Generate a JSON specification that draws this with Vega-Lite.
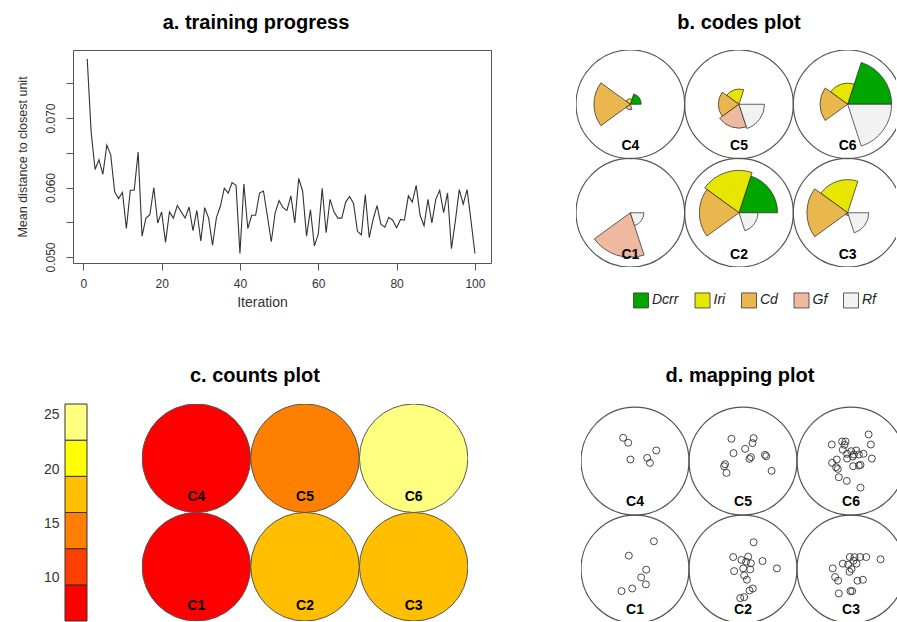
{
  "$schema": "https://vega.github.io/schema/vega-lite/v6.json",
  "padding": {"left": 15, "top": 12, "right": 0, "bottom": 0},
  "config": {
    "font": "Liberation Sans",
    "view": {"stroke": null},
    "title": {"font": "Liberation Sans", "fontSize": 20, "fontWeight": "bold", "color": "#000000", "anchor": "middle"},
    "axis": {"labelFont": "Liberation Sans", "titleFont": "Liberation Sans", "grid": false, "labelColor": "#333333", "titleColor": "#333333", "titleFontWeight": "normal"}
  },
  "datasets": {
    "training": [
      {"iteration": 1, "distance": 0.0785}, {"iteration": 2, "distance": 0.0680}, {"iteration": 3, "distance": 0.0626}, {"iteration": 4, "distance": 0.0640}, {"iteration": 5, "distance": 0.0619},
      {"iteration": 6, "distance": 0.0661}, {"iteration": 7, "distance": 0.0647}, {"iteration": 8, "distance": 0.0594}, {"iteration": 9, "distance": 0.0584}, {"iteration": 10, "distance": 0.0593},
      {"iteration": 11, "distance": 0.0541}, {"iteration": 12, "distance": 0.0596}, {"iteration": 13, "distance": 0.0596}, {"iteration": 14, "distance": 0.0651}, {"iteration": 15, "distance": 0.0530},
      {"iteration": 16, "distance": 0.0556}, {"iteration": 17, "distance": 0.0561}, {"iteration": 18, "distance": 0.0600}, {"iteration": 19, "distance": 0.0549}, {"iteration": 20, "distance": 0.0565},
      {"iteration": 21, "distance": 0.0521}, {"iteration": 22, "distance": 0.0565}, {"iteration": 23, "distance": 0.0556}, {"iteration": 24, "distance": 0.0574}, {"iteration": 25, "distance": 0.0565},
      {"iteration": 26, "distance": 0.0556}, {"iteration": 27, "distance": 0.0572}, {"iteration": 28, "distance": 0.0538}, {"iteration": 29, "distance": 0.0567}, {"iteration": 30, "distance": 0.0523},
      {"iteration": 31, "distance": 0.0571}, {"iteration": 32, "distance": 0.0556}, {"iteration": 33, "distance": 0.0517}, {"iteration": 34, "distance": 0.0557}, {"iteration": 35, "distance": 0.0573},
      {"iteration": 36, "distance": 0.0599}, {"iteration": 37, "distance": 0.0592}, {"iteration": 38, "distance": 0.0607}, {"iteration": 39, "distance": 0.0603}, {"iteration": 40, "distance": 0.0505},
      {"iteration": 41, "distance": 0.0605}, {"iteration": 42, "distance": 0.0541}, {"iteration": 43, "distance": 0.0560}, {"iteration": 44, "distance": 0.0560}, {"iteration": 45, "distance": 0.0592},
      {"iteration": 46, "distance": 0.0595}, {"iteration": 47, "distance": 0.0559}, {"iteration": 48, "distance": 0.0522}, {"iteration": 49, "distance": 0.0564}, {"iteration": 50, "distance": 0.0581},
      {"iteration": 51, "distance": 0.0571}, {"iteration": 52, "distance": 0.0567}, {"iteration": 53, "distance": 0.0588}, {"iteration": 54, "distance": 0.0549}, {"iteration": 55, "distance": 0.0613},
      {"iteration": 56, "distance": 0.0595}, {"iteration": 57, "distance": 0.0530}, {"iteration": 58, "distance": 0.0568}, {"iteration": 59, "distance": 0.0516}, {"iteration": 60, "distance": 0.0533},
      {"iteration": 61, "distance": 0.0599}, {"iteration": 62, "distance": 0.0535}, {"iteration": 63, "distance": 0.0583}, {"iteration": 64, "distance": 0.0565}, {"iteration": 65, "distance": 0.0556},
      {"iteration": 66, "distance": 0.0556}, {"iteration": 67, "distance": 0.0579}, {"iteration": 68, "distance": 0.0587}, {"iteration": 69, "distance": 0.0577}, {"iteration": 70, "distance": 0.0537},
      {"iteration": 71, "distance": 0.0532}, {"iteration": 72, "distance": 0.0590}, {"iteration": 73, "distance": 0.0528}, {"iteration": 74, "distance": 0.0554}, {"iteration": 75, "distance": 0.0574},
      {"iteration": 76, "distance": 0.0547}, {"iteration": 77, "distance": 0.0543}, {"iteration": 78, "distance": 0.0557}, {"iteration": 79, "distance": 0.0553}, {"iteration": 80, "distance": 0.0542},
      {"iteration": 81, "distance": 0.0554}, {"iteration": 82, "distance": 0.0553}, {"iteration": 83, "distance": 0.0588}, {"iteration": 84, "distance": 0.0579}, {"iteration": 85, "distance": 0.0603},
      {"iteration": 86, "distance": 0.0560}, {"iteration": 87, "distance": 0.0545}, {"iteration": 88, "distance": 0.0583}, {"iteration": 89, "distance": 0.0549}, {"iteration": 90, "distance": 0.0583},
      {"iteration": 91, "distance": 0.0596}, {"iteration": 92, "distance": 0.0564}, {"iteration": 93, "distance": 0.0592}, {"iteration": 94, "distance": 0.0512}, {"iteration": 95, "distance": 0.0552},
      {"iteration": 96, "distance": 0.0597}, {"iteration": 97, "distance": 0.0576}, {"iteration": 98, "distance": 0.0597}, {"iteration": 99, "distance": 0.0552}, {"iteration": 100, "distance": 0.0505}
    ],
    "cells": [
      {"unit": "C1", "col": 1, "row": 1, "count": 7},
      {"unit": "C2", "col": 2, "row": 1, "count": 17},
      {"unit": "C3", "col": 3, "row": 1, "count": 19},
      {"unit": "C4", "col": 1, "row": 2, "count": 6},
      {"unit": "C5", "col": 2, "row": 2, "count": 13},
      {"unit": "C6", "col": 3, "row": 2, "count": 26}
    ],
    "segments": [
      {"var": "Dcrr", "k0": 0, "k1": 1},
      {"var": "Iri", "k0": 1, "k1": 2},
      {"var": "Cd", "k0": 2, "k1": 3},
      {"var": "Gf", "k0": 3, "k1": 4},
      {"var": "Rf", "k0": 4, "k1": 5}
    ],
    "codes": [
      {"unit": "C1", "var": "Dcrr", "value": 0}, {"unit": "C1", "var": "Iri", "value": 0}, {"unit": "C1", "var": "Cd", "value": 0}, {"unit": "C1", "var": "Gf", "value": 0.82}, {"unit": "C1", "var": "Rf", "value": 0.25},
      {"unit": "C2", "var": "Dcrr", "value": 0.71}, {"unit": "C2", "var": "Iri", "value": 0.78}, {"unit": "C2", "var": "Cd", "value": 0.73}, {"unit": "C2", "var": "Gf", "value": 0}, {"unit": "C2", "var": "Rf", "value": 0.35},
      {"unit": "C3", "var": "Dcrr", "value": 0}, {"unit": "C3", "var": "Iri", "value": 0.61}, {"unit": "C3", "var": "Cd", "value": 0.75}, {"unit": "C3", "var": "Gf", "value": 0.05}, {"unit": "C3", "var": "Rf", "value": 0.39},
      {"unit": "C4", "var": "Dcrr", "value": 0.2}, {"unit": "C4", "var": "Iri", "value": 0.1}, {"unit": "C4", "var": "Cd", "value": 0.67}, {"unit": "C4", "var": "Gf", "value": 0.1}, {"unit": "C4", "var": "Rf", "value": 0},
      {"unit": "C5", "var": "Dcrr", "value": 0}, {"unit": "C5", "var": "Iri", "value": 0.28}, {"unit": "C5", "var": "Cd", "value": 0.38}, {"unit": "C5", "var": "Gf", "value": 0.44}, {"unit": "C5", "var": "Rf", "value": 0.47},
      {"unit": "C6", "var": "Dcrr", "value": 0.81}, {"unit": "C6", "var": "Iri", "value": 0.39}, {"unit": "C6", "var": "Cd", "value": 0.51}, {"unit": "C6", "var": "Gf", "value": 0}, {"unit": "C6", "var": "Rf", "value": 0.81}
    ],
    "bins": [
      {"lo": 6, "hi": 9.333, "mid": 7.667},
      {"lo": 9.333, "hi": 12.667, "mid": 11},
      {"lo": 12.667, "hi": 16, "mid": 14.333},
      {"lo": 16, "hi": 19.333, "mid": 17.667},
      {"lo": 19.333, "hi": 22.667, "mid": 21},
      {"lo": 22.667, "hi": 26, "mid": 24.333}
    ],
    "mapping": [
      {"unit": "C4", "x": 0.890, "y": 2.215}, {"unit": "C4", "x": 0.937, "y": 2.169}, {"unit": "C4", "x": 0.958, "y": 2.014}, {"unit": "C4", "x": 1.113, "y": 2.029}, {"unit": "C4", "x": 1.138, "y": 1.983}, {"unit": "C4", "x": 1.197, "y": 2.098},
      {"unit": "C1", "x": 1.175, "y": 1.257}, {"unit": "C1", "x": 0.943, "y": 1.124}, {"unit": "C1", "x": 1.104, "y": 0.994}, {"unit": "C1", "x": 1.057, "y": 0.923}, {"unit": "C1", "x": 1.101, "y": 0.858}, {"unit": "C1", "x": 0.974, "y": 0.820}, {"unit": "C1", "x": 0.875, "y": 0.796},
      {"unit": "C5", "x": 1.893, "y": 2.206}, {"unit": "C5", "x": 2.098, "y": 2.212}, {"unit": "C5", "x": 2.088, "y": 2.166}, {"unit": "C5", "x": 2.020, "y": 2.113}, {"unit": "C5", "x": 1.912, "y": 2.073}, {"unit": "C5", "x": 2.073, "y": 2.036}, {"unit": "C5", "x": 2.060, "y": 2.020},
      {"unit": "C5", "x": 2.203, "y": 2.057}, {"unit": "C5", "x": 2.215, "y": 2.045}, {"unit": "C5", "x": 1.834, "y": 1.971}, {"unit": "C5", "x": 1.825, "y": 1.952}, {"unit": "C5", "x": 1.847, "y": 1.890}, {"unit": "C5", "x": 2.265, "y": 1.909},
      {"unit": "C6", "x": 3.163, "y": 2.246}, {"unit": "C6", "x": 2.822, "y": 2.153}, {"unit": "C6", "x": 2.918, "y": 2.181}, {"unit": "C6", "x": 2.949, "y": 2.181}, {"unit": "C6", "x": 2.940, "y": 2.150}, {"unit": "C6", "x": 3.184, "y": 2.153},
      {"unit": "C6", "x": 2.924, "y": 2.104}, {"unit": "C6", "x": 3.002, "y": 2.091}, {"unit": "C6", "x": 3.048, "y": 2.098}, {"unit": "C6", "x": 2.964, "y": 2.067}, {"unit": "C6", "x": 3.026, "y": 2.060}, {"unit": "C6", "x": 3.073, "y": 2.060},
      {"unit": "C6", "x": 3.116, "y": 2.067}, {"unit": "C6", "x": 3.017, "y": 2.042}, {"unit": "C6", "x": 3.193, "y": 2.023}, {"unit": "C6", "x": 2.964, "y": 2.023}, {"unit": "C6", "x": 2.868, "y": 2.014}, {"unit": "C6", "x": 2.825, "y": 1.983},
      {"unit": "C6", "x": 3.088, "y": 1.964}, {"unit": "C6", "x": 3.020, "y": 1.952}, {"unit": "C6", "x": 3.073, "y": 1.958}, {"unit": "C6", "x": 2.862, "y": 1.943}, {"unit": "C6", "x": 2.878, "y": 1.927}, {"unit": "C6", "x": 2.887, "y": 1.850},
      {"unit": "C6", "x": 2.961, "y": 1.816}, {"unit": "C6", "x": 3.088, "y": 1.754},
      {"unit": "C2", "x": 2.098, "y": 1.248}, {"unit": "C2", "x": 1.909, "y": 1.111}, {"unit": "C2", "x": 2.048, "y": 1.115}, {"unit": "C2", "x": 1.986, "y": 1.084}, {"unit": "C2", "x": 2.029, "y": 1.068}, {"unit": "C2", "x": 2.073, "y": 1.053},
      {"unit": "C2", "x": 2.181, "y": 1.074}, {"unit": "C2", "x": 2.314, "y": 1.006}, {"unit": "C2", "x": 1.918, "y": 0.981}, {"unit": "C2", "x": 2.002, "y": 1.006}, {"unit": "C2", "x": 2.067, "y": 0.997}, {"unit": "C2", "x": 2.011, "y": 0.941},
      {"unit": "C2", "x": 2.036, "y": 0.901}, {"unit": "C2", "x": 2.091, "y": 0.820}, {"unit": "C2", "x": 2.060, "y": 0.802}, {"unit": "C2", "x": 2.011, "y": 0.740}, {"unit": "C2", "x": 1.974, "y": 0.731},
      {"unit": "C3", "x": 2.989, "y": 1.111}, {"unit": "C3", "x": 3.033, "y": 1.111}, {"unit": "C3", "x": 3.085, "y": 1.111}, {"unit": "C3", "x": 3.141, "y": 1.111}, {"unit": "C3", "x": 3.274, "y": 1.090}, {"unit": "C3", "x": 3.023, "y": 1.077},
      {"unit": "C3", "x": 2.924, "y": 1.050}, {"unit": "C3", "x": 2.974, "y": 1.040}, {"unit": "C3", "x": 3.051, "y": 1.050}, {"unit": "C3", "x": 3.005, "y": 1.000}, {"unit": "C3", "x": 2.986, "y": 0.975}, {"unit": "C3", "x": 2.831, "y": 1.006},
      {"unit": "C3", "x": 2.853, "y": 0.926}, {"unit": "C3", "x": 2.881, "y": 0.892}, {"unit": "C3", "x": 3.060, "y": 0.892}, {"unit": "C3", "x": 3.110, "y": 0.901}, {"unit": "C3", "x": 2.995, "y": 0.796}, {"unit": "C3", "x": 3.011, "y": 0.796},
      {"unit": "C3", "x": 2.887, "y": 0.774}
    ]
  },
  "resolve": {"scale": {"color": "independent", "fill": "independent"}, "legend": {"color": "independent", "fill": "independent"}},
  "spacing": 56,
  "vconcat": [
    {
      "spacing": 84,
      "resolve": {"scale": {"color": "independent", "fill": "independent"}, "legend": {"color": "independent", "fill": "independent"}},
      "hconcat": [
        {
          "spacing": -51,
          "hconcat": [
            {
              "width": 1,
              "height": 1,
              "data": {"values": []},
              "mark": "point"
            },
            {
              "width": 418,
              "height": 213,
              "view": {"stroke": "#555555", "strokeWidth": 1},
              "title": {"text": "a. training progress", "dx": -26, "offset": 17},
              "data": {"name": "training"},
              "mark": {"type": "line", "color": "#333333", "strokeWidth": 1.1},
              "encoding": {
                "x": {
                  "field": "iteration", "type": "quantitative",
                  "scale": {"domain": [-2.63, 104.1], "nice": false, "zero": false},
                  "axis": {"values": [0, 20, 40, 60, 80, 100], "title": "Iteration", "titleFontSize": 14, "labelFontSize": 12, "tickSize": 7, "tickColor": "#555555", "domain": false, "labelPadding": 8, "titlePadding": 6, "titleX": 189}
                },
                "y": {
                  "field": "distance", "type": "quantitative",
                  "scale": {"domain": [0.04914, 0.07978], "nice": false, "zero": false},
                  "axis": {"values": [0.05, 0.055, 0.06, 0.065, 0.07, 0.075], "format": ".3f", "labelExpr": "round(datum.value * 1000) % 10 === 0 ? datum.label : ''", "labelOverlap": false, "labelAngle": -90, "labelAlign": "center", "labelBaseline": "bottom", "labelFontSize": 12, "tickSize": 7, "tickColor": "#555555", "domain": false, "labelPadding": 9, "title": "Mean distance to closest unit", "titleFontSize": 12.5, "titlePadding": 15}
                }
              }
            }
          ]
        },
        {
          "width": 320,
          "height": 217,
          "title": {"text": "b. codes plot", "dx": 3, "offset": 17},
          "layer": [
            {
              "data": {"name": "cells"},
              "mark": {"type": "point", "shape": "circle", "size": 11807, "filled": false, "color": "#555555", "strokeWidth": 1.2, "opacity": 1, "clip": true},
              "encoding": {
                "x": {"field": "col", "type": "quantitative", "scale": {"domain": [0.5, 3.445], "nice": false, "zero": false}, "axis": null},
                "y": {"field": "row", "type": "quantitative", "scale": {"domain": [0.5, 2.5], "nice": false, "zero": false}, "axis": null}
              }
            },
            {
              "data": {"name": "codes"},
              "transform": [
                {"filter": "datum.value > 0"},
                {"lookup": "unit", "from": {"data": {"name": "cells"}, "key": "unit", "fields": ["col", "row"]}},
                {"lookup": "var", "from": {"data": {"name": "segments"}, "key": "var", "fields": ["k0", "k1"]}}
              ],
              "mark": {"type": "arc", "stroke": "#222222", "strokeWidth": 0.7, "clip": true},
              "encoding": {
                "x": {"field": "col", "type": "quantitative", "scale": {"domain": [0.5, 3.445], "nice": false, "zero": false}, "axis": null},
                "y": {"field": "row", "type": "quantitative", "scale": {"domain": [0.5, 2.5], "nice": false, "zero": false}, "axis": null},
                "theta": {"field": "k0", "type": "quantitative", "stack": null, "scale": {"domain": [0, 5], "range": [1.5708, -4.7124], "zero": false, "nice": false}},
                "theta2": {"field": "k1"},
                "radius": {"field": "value", "type": "quantitative", "scale": {"type": "linear", "domain": [0, 1], "range": [0, 54.3], "zero": true, "nice": false}},
                "color": {
                  "field": "var", "type": "nominal",
                  "scale": {"domain": ["Dcrr", "Iri", "Cd", "Gf", "Rf"], "range": ["#00A600", "#E6E600", "#EAB64E", "#EEB99F", "#F2F2F2"]},
                  "legend": {"orient": "none", "legendX": 57, "legendY": 242, "direction": "horizontal", "title": null, "padding": 0, "symbolType": "square", "symbolSize": 225, "symbolStrokeColor": "#333333", "symbolStrokeWidth": 0.8, "symbolOpacity": 1, "labelFont": "Liberation Sans", "labelFontSize": 14, "labelFontStyle": "italic", "labelColor": "#222222", "labelOffset": 3, "columnPadding": 13.5}
                }
              }
            },
            {
              "data": {"name": "cells"},
              "mark": {"type": "text", "dy": 46, "baseline": "alphabetic", "fontSize": 14, "fontWeight": "bold", "color": "#000000"},
              "encoding": {
                "x": {"field": "col", "type": "quantitative", "scale": {"domain": [0.5, 3.445], "nice": false, "zero": false}, "axis": null},
                "y": {"field": "row", "type": "quantitative", "scale": {"domain": [0.5, 2.5], "nice": false, "zero": false}, "axis": null},
                "text": {"field": "unit"}
              }
            }
          ]
        }
      ]
    },
    {
      "spacing": 113,
      "hconcat": [
        {
          "spacing": 54,
          "hconcat": [
            {
              "width": 22,
              "height": 217,
              "data": {"name": "bins"},
              "mark": {"type": "rect", "stroke": "#333333", "strokeWidth": 1},
              "encoding": {
                "y": {
                  "field": "lo", "type": "quantitative",
                  "scale": {"domain": [6, 26], "nice": false, "zero": false},
                  "axis": {"values": [10, 15, 20, 25], "ticks": false, "domain": false, "labelFontSize": 14, "labelPadding": 6, "title": null}
                },
                "y2": {"field": "hi"},
                "fill": {
                  "field": "mid", "type": "quantitative",
                  "scale": {"type": "quantize", "domain": [6, 26], "nice": false, "zero": false, "range": ["#FF0000", "#FF4000", "#FF8000", "#FFBF00", "#FFFF00", "#FFFF80"]},
                  "legend": null
                }
              }
            },
            {
              "width": 326,
              "height": 217,
              "title": {"text": "c. counts plot", "dx": -50, "offset": 18},
              "data": {"name": "cells"},
              "layer": [
                {
                  "mark": {"type": "point", "shape": "circle", "size": 11772, "filled": true, "stroke": "#555555", "strokeWidth": 1, "opacity": 1, "clip": true},
                  "encoding": {
                    "x": {"field": "col", "type": "quantitative", "scale": {"domain": [0.5, 3.5], "nice": false, "zero": false}, "axis": null},
                    "y": {"field": "row", "type": "quantitative", "scale": {"domain": [0.5, 2.5], "nice": false, "zero": false}, "axis": null},
                    "fill": {
                      "field": "count", "type": "quantitative",
                      "scale": {"type": "quantize", "domain": [6, 26], "nice": false, "zero": false, "range": ["#FF0000", "#FF4000", "#FF8000", "#FFBF00", "#FFFF00", "#FFFF80"]},
                      "legend": null
                    }
                  }
                },
                {
                  "mark": {"type": "text", "dy": 43, "baseline": "alphabetic", "fontSize": 14, "fontWeight": "bold", "color": "#000000"},
                  "encoding": {
                    "x": {"field": "col", "type": "quantitative", "scale": {"domain": [0.5, 3.5], "nice": false, "zero": false}, "axis": null},
                    "y": {"field": "row", "type": "quantitative", "scale": {"domain": [0.5, 2.5], "nice": false, "zero": false}, "axis": null},
                    "text": {"field": "unit"}
                  }
                }
              ]
            }
          ]
        },
        {
          "width": 316,
          "height": 217,
          "title": {"text": "d. mapping plot", "dx": 1, "offset": 18},
          "layer": [
            {
              "data": {"name": "cells"},
              "mark": {"type": "point", "shape": "circle", "size": 11664, "filled": false, "color": "#555555", "strokeWidth": 1.2, "opacity": 1, "clip": true},
              "encoding": {
                "x": {"field": "col", "type": "quantitative", "scale": {"domain": [0.5, 3.426], "nice": false, "zero": false}, "axis": null},
                "y": {"field": "row", "type": "quantitative", "scale": {"domain": [0.519, 2.528], "nice": false, "zero": false}, "axis": null}
              }
            },
            {
              "data": {"name": "mapping"},
              "mark": {"type": "point", "shape": "circle", "size": 49, "filled": false, "color": "#333333", "strokeWidth": 0.9, "opacity": 1, "clip": true},
              "encoding": {
                "x": {"field": "x", "type": "quantitative", "scale": {"domain": [0.5, 3.426], "nice": false, "zero": false}, "axis": null},
                "y": {"field": "y", "type": "quantitative", "scale": {"domain": [0.519, 2.528], "nice": false, "zero": false}, "axis": null}
              }
            },
            {
              "data": {"name": "cells"},
              "mark": {"type": "text", "dy": 45, "baseline": "alphabetic", "fontSize": 14, "fontWeight": "bold", "color": "#000000"},
              "encoding": {
                "x": {"field": "col", "type": "quantitative", "scale": {"domain": [0.5, 3.426], "nice": false, "zero": false}, "axis": null},
                "y": {"field": "row", "type": "quantitative", "scale": {"domain": [0.519, 2.528], "nice": false, "zero": false}, "axis": null},
                "text": {"field": "unit"}
              }
            }
          ]
        }
      ]
    }
  ]
}
